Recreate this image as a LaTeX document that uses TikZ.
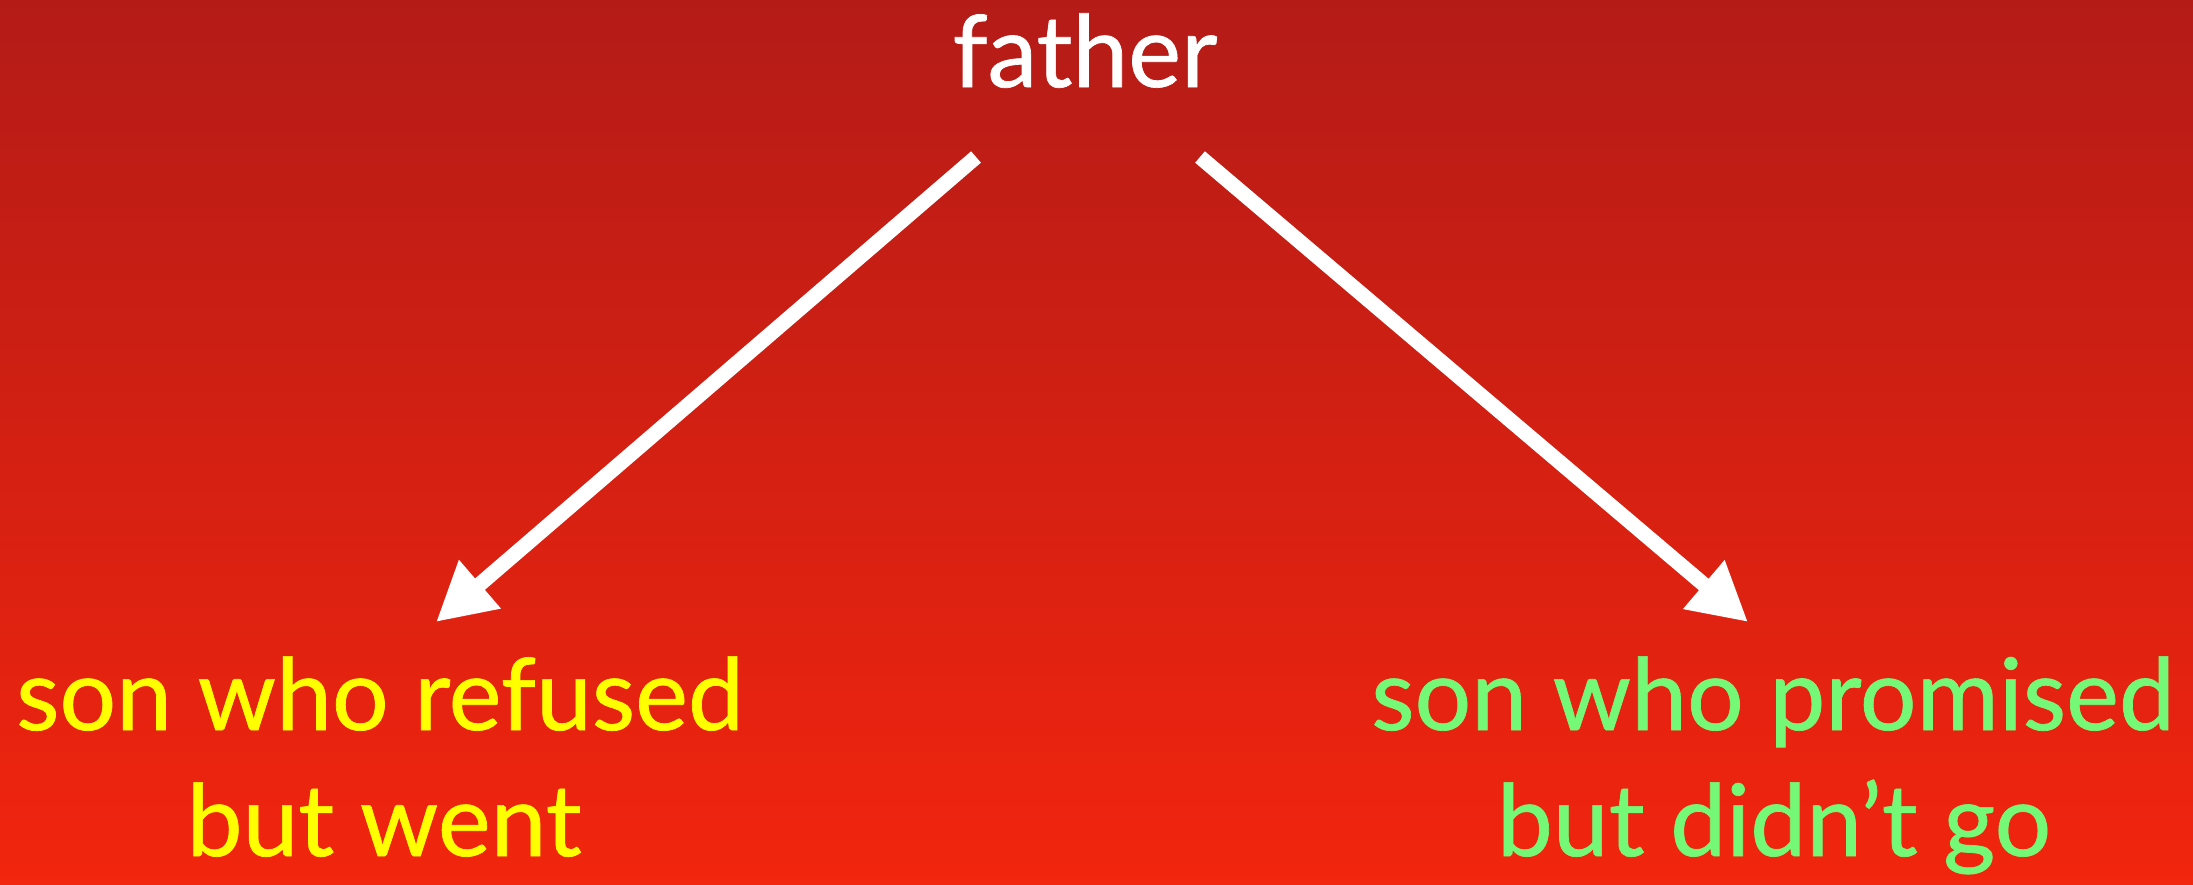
\documentclass[tikz,border=0pt]{standalone}
\usepackage{fontspec}
\setmainfont{Lato}[UprightFeatures={FakeBold=0.7}]
\usetikzlibrary{arrows.meta}
\definecolor{bgtop}{HTML}{B41B17}
\definecolor{bgbot}{HTML}{F2250E}
\definecolor{sonyellow}{HTML}{FFFF00}
\definecolor{songreen}{HTML}{76F877}
\tikzset{
  lbl/.style={anchor=base, inner sep=0pt, font=\fontsize{100}{120}\selectfont},
  conn/.style={draw=white, line width=15pt, -{Triangle[length=58pt,width=60pt]}, fill=white},
}
\begin{document}
\begin{tikzpicture}[x=1pt,y=-1pt]
\shade[top color=bgtop, bottom color=bgbot] (0,0) rectangle (2193,884);
\useasboundingbox (0,0) rectangle (2193,884);
\node[lbl, text=white] (father) at (1085,87) {father};
\node[lbl, text=sonyellow] (l1) at (380,730) {son who refused};
\node[lbl, text=sonyellow] (l2) at (384,856) {but went};
\node[lbl, text=songreen] (r1) at (1773,730) {son who promised};
\node[lbl, text=songreen] (r2) at (1774,856) {but didn’t go};
\coordinate (ls) at (976,157);
\coordinate (lt) at (436,622);
\coordinate (rs) at (1200,157);
\coordinate (rt) at (1748,622);
\draw[conn] (ls) -- (lt);
\draw[conn] (rs) -- (rt);
\end{tikzpicture}
\end{document}
